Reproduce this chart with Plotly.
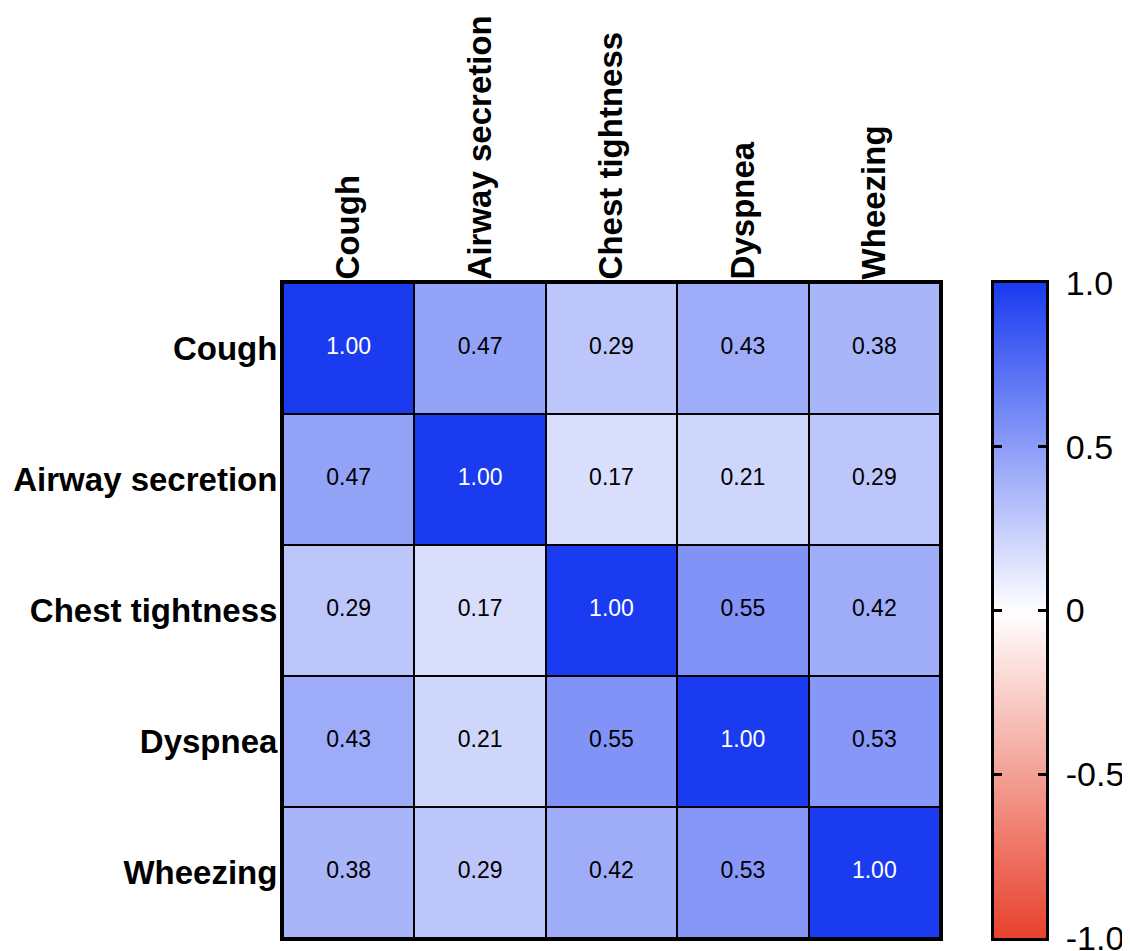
import plotly.graph_objects as go

symptoms = ["Cough", "Airway secretion", "Chest tightness", "Dyspnea", "Wheezing"]
corr = [
    [1.00, 0.47, 0.29, 0.43, 0.38],
    [0.47, 1.00, 0.17, 0.21, 0.29],
    [0.29, 0.17, 1.00, 0.55, 0.42],
    [0.43, 0.21, 0.55, 1.00, 0.53],
    [0.38, 0.29, 0.42, 0.53, 1.00],
]
cbar_vals = [-1.0, -0.5, 0, 0.5, 1.0]
cbar_text = ["-1.0", "-0.5", "0", "0.5", "1.0"]

FONT = "Liberation Sans, Arial, sans-serif"
colorscale = [[0.0, "#E8412C"], [0.5, "#FFFFFF"], [1.0, "#1A3BF0"]]

# figure is placed at (8,8) by the page's body margin
W, H = 1122, 943
ML, MR, MT, MB = 275, 60, 275, 13
PW = W - ML - MR


def px(x):
    return (x - 8 - ML) / PW


fig = go.Figure()
fig.add_trace(go.Heatmap(
    z=corr, x=symptoms, y=symptoms,
    zmin=-1, zmax=1, colorscale=colorscale,
    xgap=2, ygap=2, hoverinfo="skip", showscale=False,
))

xs, ys, txt, cols = [], [], [], []
for i, row in enumerate(corr):
    for j, v in enumerate(row):
        xs.append(symptoms[j]); ys.append(symptoms[i])
        txt.append(f"{v:.2f}")
        cols.append("white" if v >= 0.8 else "black")
fig.add_trace(go.Scatter(
    x=xs, y=ys, mode="text", text=txt,
    textfont=dict(family=FONT, size=23, color=cols),
    hoverinfo="skip", showlegend=False,
))

# colour bar drawn as a smoothed heatmap on its own axes
fig.add_trace(go.Heatmap(
    z=[[v, v] for v in cbar_vals], x=[0, 1], y=cbar_vals,
    zmin=-1, zmax=1, colorscale=colorscale, zsmooth="best",
    showscale=False, hoverinfo="skip", xaxis="x2", yaxis="y2",
))

axis_font = dict(family=FONT, size=33, color="black", weight="bold")
fig.update_layout(
    width=W, height=H,
    margin=dict(l=ML, r=MR, t=MT, b=MB),
    paper_bgcolor="white", plot_bgcolor="black",
    font=dict(family=FONT, color="black"),
    showlegend=False,
    xaxis=dict(domain=[0, px(940)], side="top", tickangle=-90, showgrid=False,
               zeroline=False, showline=True, linecolor="black", linewidth=3,
               mirror=True, ticks="", ticklen=0, ticklabelstandoff=-6,
               automargin=False, ticklabeloverflow="allow",
               tickfont=axis_font),
    yaxis=dict(autorange="reversed", showgrid=False, zeroline=False,
               showline=True, linecolor="black", linewidth=3, mirror=True,
               ticks="", ticklen=0, ticklabelstandoff=-4, automargin=False,
               ticklabeloverflow="allow", tickfont=axis_font),
    xaxis2=dict(domain=[px(994), px(1046)], range=[0, 1], anchor="y2",
                showgrid=False, zeroline=False, showticklabels=False,
                showline=True, linecolor="black", linewidth=3, mirror=True,
                ticks="", automargin=False, fixedrange=True),
    yaxis2=dict(domain=[0, 1], range=[-1, 1], anchor="x2", side="right",
                showgrid=False, zeroline=False,
                showline=True, linecolor="black", linewidth=3, mirror="ticks",
                tickvals=cbar_vals, ticktext=cbar_text,
                ticks="inside", ticklen=8, tickwidth=3, tickcolor="black",
                ticklabelstandoff=10, automargin=False, fixedrange=True,
                ticklabeloverflow="allow",
                tickfont=dict(family=FONT, size=34, color="black")),
)

fig.write_html("out.html")
